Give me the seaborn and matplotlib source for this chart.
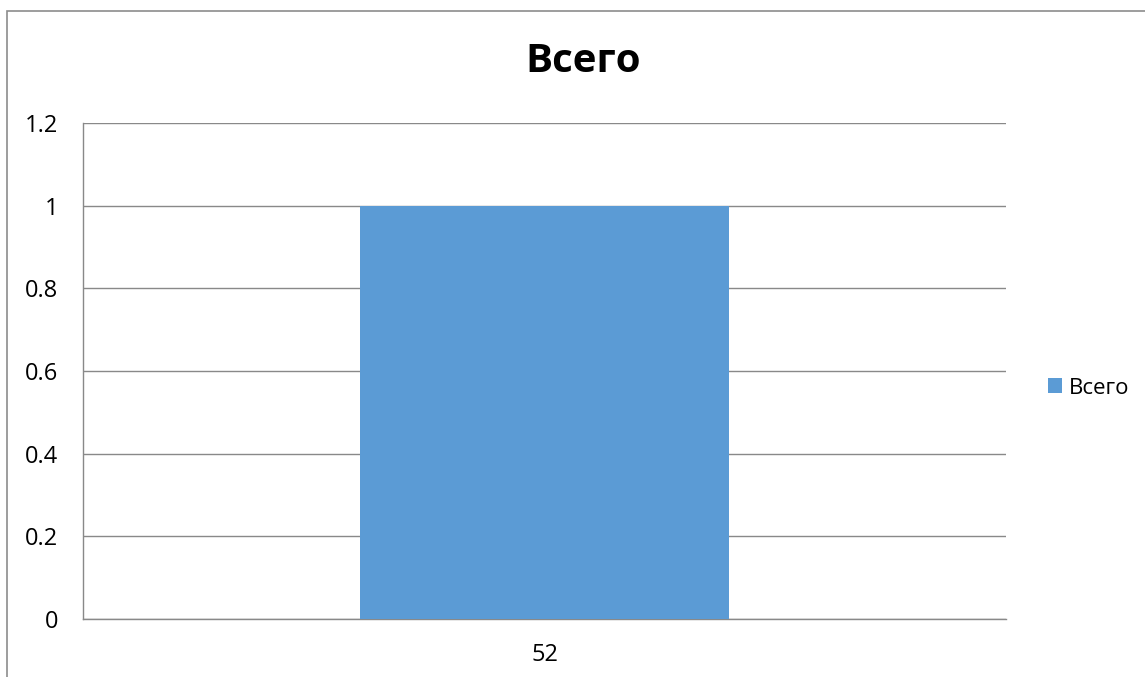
import matplotlib
matplotlib.use("Agg")
import matplotlib.pyplot as plt
import seaborn as sns
import pandas as pd
from matplotlib.patches import Rectangle

# Chart data
categories = ["52"]
values = [1]
series_name = "Всего"
y_ticks = [0, 0.2, 0.4, 0.6, 0.8, 1, 1.2]
y_tick_labels = ["0", "0.2", "0.4", "0.6", "0.8", "1", "1.2"]

df = pd.DataFrame({"category": categories, "value": values})

sns.set_style("white")
plt.rcParams["font.family"] = ["Open Sans", "Noto Sans", "DejaVu Sans"]
plt.rcParams["text.color"] = "black"
plt.rcParams["xtick.labelcolor"] = "black"
plt.rcParams["ytick.labelcolor"] = "black"

W, H = 1145, 677
fig = plt.figure(figsize=(W / 100, H / 100), dpi=100)
ax = fig.add_axes([83 / W, 1 - 619 / H, (1006 - 83) / W, (619 - 123) / H])

sns.barplot(data=df, x="category", y="value", color="#5B9BD5", width=0.4,
            saturation=1, label=series_name, ax=ax, zorder=3, linewidth=0)

grid_color = "#898989"
ax.set_ylim(0, 1.2)
ax.set_xlim(-0.5, 0.5)
ax.set_yticks(y_ticks)
ax.set_yticklabels(y_tick_labels)
ax.yaxis.grid(True, color=grid_color, linewidth=1, zorder=0)
ax.set_axisbelow(True)

for s in ["top", "right"]:
    ax.spines[s].set_visible(False)
for s in ["left", "bottom"]:
    ax.spines[s].set_color(grid_color)
    ax.spines[s].set_linewidth(1)

ax.tick_params(axis="y", length=6, width=1, color=grid_color, pad=12, labelsize=17)
ax.tick_params(axis="x", which="major", length=0, pad=17, labelsize=17)
ax.set_xticks([-0.5, 0.5], minor=True)
ax.tick_params(axis="x", which="minor", length=6, width=1, color=grid_color)
ax.set_xlabel("")
ax.set_ylabel("")

fig.text(583 / W, 1 - 62 / H, "Всего", ha="center", va="center",
         fontsize=29, fontweight="bold")

ax.legend(loc="center left", bbox_to_anchor=(1028 / W, 1 - 388 / H),
          bbox_transform=fig.transFigure, frameon=False, fontsize=16,
          handlelength=0.65, handleheight=0.65, handletextpad=0.3)

# chart area frame (cut off at right and bottom like the original)
fig.patches.append(Rectangle((7 / W, -0.1), 1.2, 1.1 - 11 / H,
                             transform=fig.transFigure, fill=False,
                             edgecolor="#8c8c8c", linewidth=1.2, clip_on=False))

fig.savefig("out.png", dpi=100)
